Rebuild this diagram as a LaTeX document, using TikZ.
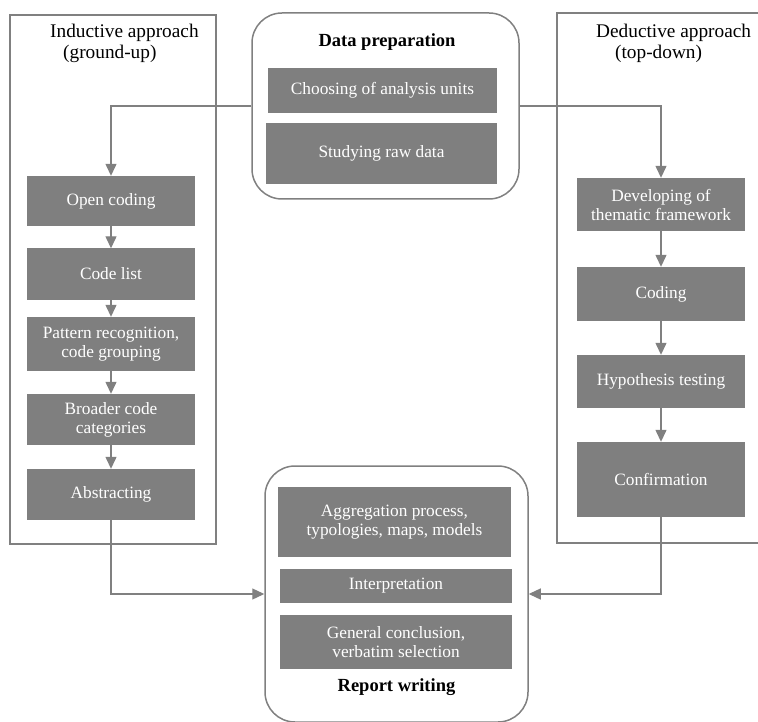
\documentclass[tikz,border=0pt]{standalone}
\usepackage{fontspec}
\setmainfont{Liberation Serif}
\usetikzlibrary{arrows.meta}
\definecolor{boxgray}{RGB}{127,127,127}
\definecolor{linegray}{RGB}{128,128,128}

\begin{document}
\begin{tikzpicture}[x=1pt,y=-1pt,>={Triangle[width=11pt,length=12pt]},
  font=\fontsize{17.3}{19}\selectfont,
  stepbox/.style={fill=boxgray, text=white, align=center, inner sep=0pt, minimum width=168},
  endbox/.style={fill=boxgray, text=white, align=center, inner sep=0pt, minimum width=232},
  frame/.style={draw=linegray, line width=1.5pt, inner sep=0pt},
  group/.style={draw=linegray, line width=1.5pt, rounded corners=30pt, inner sep=0pt},
  title/.style={anchor=north west, align=left, inner sep=0pt, font=\fontsize{19.3}{21}\selectfont},
  head/.style={font=\fontsize{18.5}{20}\selectfont\bfseries},
  line/.style={draw=linegray, line width=1.3pt}]
\clip (0,0) rectangle (758,722);

\node(Ind)[frame, minimum width=206, minimum height=529] at (113,279.5) {};
\node(Ded)[frame, minimum width=220, minimum height=530] at (667,278) {};
\node(Prep)[group, minimum width=267, minimum height=186] at (385.5,106) {};
\node(Rep)[group, minimum width=263, minimum height=256] at (396.5,594) {};

\node(IndT)[title] at (50,24) {Inductive approach\\\hspace*{13pt}(ground-up)};
\node(DedT)[title] at (596,24) {Deductive approach\\\hspace*{19pt}(top-down)};
\node(PrepT)[head] at (387,42) {Data preparation};
\node(RepT)[head] at (396.5,687) {Report writing};

\node(P1)[endbox, minimum width=229, minimum height=45] at (382.5,90.5) {Choosing of analysis units};
\node(P2)[endbox, minimum width=231, minimum height=61] at (381.5,153.5) {Studying raw data};

\node(I1)[stepbox, minimum height=50] at (111,201) {Open coding};
\node(I2)[stepbox, minimum height=51] at (111,274) {Code list};
\node(I3)[stepbox, minimum height=54] at (111,344) {Pattern recognition,\\code grouping};
\node(I4)[stepbox, minimum height=51] at (111,419.5) {Broader code\\categories};
\node(I5)[stepbox, minimum height=51] at (111,494.5) {Abstracting};

\node(D1)[stepbox, minimum height=53] at (661,204.5) {Developing of\\thematic framework};
\node(D2)[stepbox, minimum height=54] at (661,294) {Coding};
\node(D3)[stepbox, minimum height=53] at (661,381.5) {Hypothesis testing};
\node(D4)[stepbox, minimum height=75] at (661,479.5) {Confirmation};

\node(R1)[endbox, minimum width=233, minimum height=70] at (394.5,522) {Aggregation process,\\typologies, maps, models};
\node(R2)[endbox, minimum height=34] at (396,586) {Interpretation};
\node(R3)[endbox, minimum height=54] at (396,642) {General conclusion,\\verbatim selection};

\draw[line,->] (Prep.west) -| (I1.north);
\draw[line,->] (Prep.east) -| (D1.north);

\draw (I1.south) edge[line,->] (I2.north);
\draw (I2.south) edge[line,->] (I3.north);
\draw (I3.south) edge[line,->] (I4.north);
\draw (I4.south) edge[line,->] (I5.north);

\draw (D1.south) edge[line,->] (D2.north);
\draw (D2.south) edge[line,->] (D3.north);
\draw (D3.south) edge[line,->] (D4.north);

\draw[line,->] (I5.south) |- (Rep.west);
\draw[line,->] (D4.south) |- (Rep.east);
\end{tikzpicture}
\end{document}
